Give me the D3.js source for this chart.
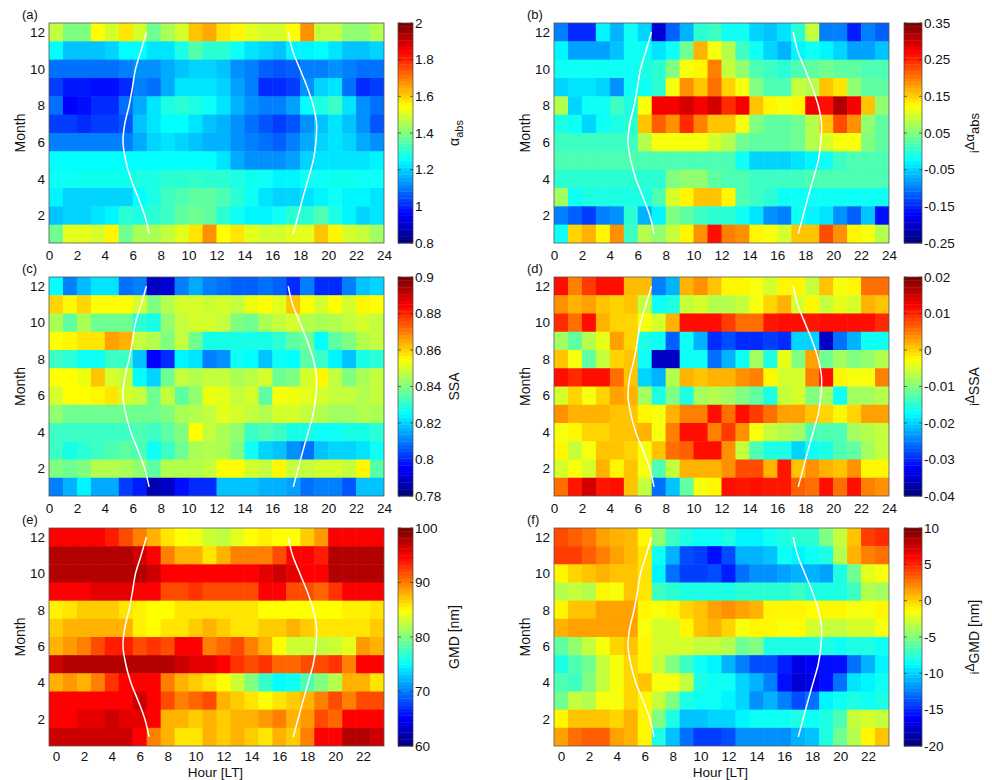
<!DOCTYPE html>
<html lang="en">
<head>
<meta charset="UTF-8">
<title>Diurnal / seasonal maps</title>
<script src="https://cdn.jsdelivr.net/npm/d3@7"></script>
<style>
    body { margin: 0; background: #fff; }
    text { font-family: "Liberation Sans", Arial, sans-serif; fill: #111; }
</style>
</head>
<body>
<script>

// rows of every grid are listed top-down: month 12 first, month 1 last
const months = [12, 11, 10, 9, 8, 7, 6, 5, 4, 3, 2, 1];
const hours = d3.range(24);

// sunrise / sunset hour for months 1..12 (white lines)
const sunMonths = [1, 2, 3, 4, 5, 6, 7, 8, 9, 10, 11, 12];
const sunrise = [7.17, 6.86, 6.38, 5.86, 5.5, 5.3, 5.43, 5.74, 5.98, 6.2, 6.6, 6.98];
const sunset = [17.5, 17.85, 18.2, 18.57, 18.93, 19.12, 19.17, 18.93, 18.5, 17.97, 17.45, 17.14];

const hourTicksFull = [0, 2, 4, 6, 8, 10, 12, 14, 16, 18, 20, 22, 24];
const hourTicksShort = [0, 2, 4, 6, 8, 10, 12, 14, 16, 18, 20, 22];
const monthTicks = [2, 4, 6, 8, 10, 12];

// (a) alpha_abs
const alphaAbs = [
    [1.48,1.40,1.40,1.55,1.50,1.58,1.50,1.38,1.45,1.50,1.62,1.65,1.58,1.56,1.52,1.50,1.50,1.55,1.68,1.48,1.48,1.42,1.42,1.46],
    [1.25,1.18,1.18,1.18,1.20,1.25,1.25,1.22,1.22,1.28,1.35,1.30,1.30,1.26,1.22,1.20,1.18,1.24,1.24,1.25,1.22,1.18,1.18,1.20],
    [1.08,1.08,1.08,1.08,1.08,1.10,1.12,1.12,1.15,1.18,1.20,1.20,1.18,1.12,1.10,1.06,1.05,1.06,1.10,1.10,1.12,1.10,1.08,1.08],
    [1.02,0.98,0.98,0.96,0.96,1.00,1.10,1.08,1.15,1.22,1.22,1.22,1.20,1.14,1.10,1.00,1.00,1.02,1.12,1.20,1.22,1.08,1.00,1.02],
    [1.08,0.95,0.96,1.00,1.00,1.08,1.15,1.22,1.28,1.30,1.28,1.26,1.22,1.16,1.12,1.10,1.10,1.14,1.25,1.28,1.32,1.22,1.12,1.08],
    [1.02,1.02,1.00,1.02,1.02,1.05,1.18,1.22,1.25,1.25,1.22,1.18,1.16,1.12,1.08,1.05,1.02,1.05,1.12,1.18,1.22,1.18,1.12,1.05],
    [1.10,1.10,1.10,1.10,1.10,1.10,1.15,1.20,1.22,1.20,1.18,1.16,1.16,1.12,1.10,1.08,1.06,1.10,1.15,1.20,1.22,1.20,1.15,1.12],
    [1.25,1.25,1.25,1.25,1.25,1.25,1.25,1.25,1.25,1.25,1.25,1.25,1.22,1.15,1.12,1.12,1.12,1.14,1.20,1.22,1.22,1.22,1.22,1.24],
    [1.26,1.26,1.27,1.27,1.27,1.27,1.28,1.28,1.30,1.30,1.31,1.30,1.30,1.28,1.27,1.26,1.24,1.24,1.26,1.26,1.27,1.27,1.26,1.26],
    [1.24,1.20,1.20,1.20,1.20,1.20,1.25,1.28,1.32,1.34,1.36,1.36,1.34,1.30,1.26,1.22,1.20,1.20,1.22,1.24,1.26,1.24,1.24,1.22],
    [1.18,1.20,1.20,1.22,1.24,1.30,1.28,1.30,1.32,1.36,1.38,1.36,1.30,1.26,1.24,1.24,1.26,1.30,1.30,1.34,1.28,1.24,1.20,1.22],
    [1.38,1.52,1.52,1.50,1.56,1.38,1.45,1.45,1.48,1.52,1.58,1.68,1.55,1.58,1.52,1.50,1.50,1.52,1.52,1.62,1.56,1.50,1.48,1.44]
];

// (b) delta alpha_abs
const dAlphaAbs = [
    [-0.10,-0.15,-0.15,-0.03,-0.07,-0.02,-0.05,-0.20,-0.12,-0.07,0.00,0.01,-0.02,-0.02,-0.05,-0.06,-0.04,0.00,0.09,-0.10,-0.10,-0.16,-0.10,-0.12],
    [-0.03,-0.08,-0.08,-0.08,-0.06,-0.02,-0.02,-0.04,-0.02,0.04,0.17,0.12,0.08,0.01,-0.02,-0.05,-0.07,-0.03,-0.02,-0.03,-0.05,-0.08,-0.08,-0.06],
    [-0.02,-0.02,-0.02,-0.02,-0.02,-0.02,-0.01,0.00,0.05,0.12,0.13,0.20,0.09,0.06,0.02,0.01,0.00,0.02,0.03,0.04,0.03,0.03,0.02,0.02],
    [-0.05,-0.04,-0.04,-0.05,-0.09,-0.02,-0.02,0.00,0.12,0.19,0.16,0.21,0.15,0.12,0.05,0.02,0.02,0.09,0.08,0.16,0.14,0.06,0.03,0.03],
    [0.08,-0.05,-0.02,-0.02,0.01,-0.01,0.12,0.28,0.28,0.30,0.28,0.30,0.25,0.28,0.16,0.13,0.12,0.13,0.28,0.27,0.32,0.28,0.16,0.06],
    [-0.01,-0.02,-0.05,-0.02,-0.01,0.00,0.16,0.22,0.19,0.25,0.20,0.16,0.16,0.12,0.05,0.03,0.03,0.04,0.08,0.16,0.23,0.19,0.06,0.03],
    [0.01,0.01,0.01,0.01,0.01,0.01,0.08,0.12,0.12,0.12,0.12,0.10,0.08,0.04,0.03,0.03,0.03,0.04,0.08,0.10,0.12,0.12,0.05,0.03],
    [0.02,0.02,0.02,0.02,0.02,0.02,0.02,0.02,0.02,0.02,0.02,0.02,0.02,-0.02,-0.05,-0.05,-0.05,-0.04,-0.03,-0.02,0.01,0.02,0.02,0.02],
    [0.00,0.00,0.00,0.00,0.00,0.00,0.00,0.00,0.05,0.06,0.06,0.03,0.02,0.02,0.01,0.01,0.01,0.01,0.02,0.02,0.02,0.02,0.02,0.02],
    [0.07,-0.02,-0.01,-0.01,-0.01,-0.01,-0.01,0.02,0.10,0.13,0.16,0.16,0.13,0.02,0.01,0.00,-0.02,-0.02,-0.02,-0.02,-0.02,-0.02,-0.02,-0.02],
    [-0.10,-0.12,-0.14,-0.10,-0.09,0.00,-0.07,-0.03,0.05,0.03,0.01,0.00,0.00,-0.02,-0.04,-0.09,-0.10,-0.02,-0.03,-0.04,-0.09,-0.12,-0.06,-0.17],
    [-0.02,0.15,0.17,0.13,0.19,0.01,0.08,0.06,0.09,0.13,0.19,0.27,0.20,0.19,0.13,0.12,0.10,0.16,0.16,0.23,0.19,0.13,0.12,0.08]
];

// (c) SSA
const ssa = [
    [0.825,0.810,0.817,0.822,0.822,0.808,0.810,0.788,0.790,0.810,0.815,0.810,0.808,0.806,0.806,0.808,0.806,0.800,0.810,0.800,0.800,0.810,0.818,0.820],
    [0.860,0.856,0.860,0.855,0.855,0.855,0.850,0.840,0.846,0.850,0.850,0.849,0.850,0.848,0.853,0.855,0.852,0.862,0.855,0.850,0.855,0.850,0.856,0.855],
    [0.845,0.836,0.845,0.838,0.838,0.838,0.830,0.828,0.842,0.848,0.850,0.850,0.848,0.840,0.838,0.845,0.848,0.850,0.846,0.845,0.846,0.848,0.850,0.848],
    [0.855,0.856,0.858,0.858,0.866,0.864,0.848,0.846,0.840,0.848,0.838,0.828,0.828,0.828,0.828,0.828,0.830,0.836,0.838,0.825,0.836,0.840,0.846,0.848],
    [0.832,0.830,0.826,0.826,0.832,0.832,0.818,0.795,0.800,0.824,0.822,0.810,0.812,0.826,0.825,0.818,0.826,0.825,0.836,0.832,0.824,0.818,0.828,0.830],
    [0.855,0.855,0.853,0.862,0.850,0.848,0.825,0.820,0.838,0.848,0.846,0.848,0.848,0.845,0.847,0.850,0.838,0.840,0.850,0.856,0.848,0.840,0.845,0.848],
    [0.850,0.855,0.855,0.856,0.858,0.850,0.848,0.838,0.848,0.836,0.842,0.853,0.852,0.848,0.850,0.836,0.854,0.853,0.852,0.850,0.848,0.848,0.846,0.848],
    [0.842,0.838,0.838,0.838,0.838,0.838,0.838,0.838,0.840,0.845,0.846,0.848,0.852,0.850,0.848,0.846,0.850,0.850,0.848,0.846,0.844,0.844,0.846,0.845],
    [0.832,0.832,0.832,0.832,0.832,0.832,0.834,0.832,0.836,0.840,0.855,0.848,0.845,0.842,0.832,0.834,0.832,0.828,0.828,0.826,0.826,0.828,0.828,0.830],
    [0.832,0.828,0.830,0.832,0.834,0.836,0.834,0.826,0.832,0.838,0.845,0.846,0.845,0.840,0.826,0.820,0.818,0.812,0.808,0.818,0.820,0.820,0.822,0.826],
    [0.840,0.838,0.840,0.846,0.846,0.845,0.842,0.836,0.846,0.846,0.846,0.848,0.855,0.855,0.850,0.848,0.856,0.848,0.848,0.850,0.850,0.848,0.856,0.835],
    [0.810,0.816,0.824,0.815,0.815,0.802,0.798,0.786,0.788,0.796,0.800,0.800,0.818,0.818,0.818,0.816,0.816,0.814,0.808,0.810,0.810,0.805,0.818,0.818]
];

// (d) delta SSA
const dSsa = [
    [0.012,0.005,0.009,0.012,0.012,0.0015,0.0015,-0.025,-0.022,0.002,0.004,0.001,-0.002,-0.002,-0.003,-0.005,-0.002,-0.002,-0.006,0.001,-0.003,-0.002,0.006,0.006],
    [0.004,0.002,0.003,0.001,0.000,0.001,-0.006,-0.017,-0.016,-0.006,-0.005,-0.007,-0.007,-0.006,-0.003,0.000,0.002,-0.005,-0.002,-0.006,-0.004,-0.005,0.002,0.001],
    [0.010,0.006,0.012,0.002,0.000,0.000,-0.003,-0.005,0.002,0.012,0.012,0.012,0.009,0.006,0.006,0.011,0.012,0.012,0.011,0.012,0.012,0.012,0.012,0.010],
    [-0.008,-0.012,-0.007,-0.004,0.003,0.000,-0.016,-0.017,-0.027,-0.017,-0.022,-0.030,-0.028,-0.030,-0.030,-0.029,-0.030,-0.020,-0.020,-0.036,-0.026,-0.022,-0.017,-0.017],
    [0.001,-0.003,-0.012,-0.006,0.000,0.001,-0.017,-0.036,-0.036,-0.017,-0.017,-0.026,-0.022,-0.017,-0.008,-0.016,-0.004,-0.010,0.003,-0.011,-0.008,-0.010,-0.009,-0.007],
    [0.012,0.010,0.012,0.012,0.006,0.001,-0.020,-0.022,-0.007,0.002,0.001,0.002,0.002,0.004,0.005,-0.002,-0.005,-0.005,0.005,0.012,-0.002,-0.003,-0.003,0.005],
    [-0.005,0.000,-0.003,0.000,0.003,0.002,-0.008,-0.016,-0.010,-0.016,-0.008,-0.007,-0.008,-0.010,-0.012,-0.016,-0.006,-0.005,-0.010,-0.008,-0.017,-0.008,-0.008,-0.007],
    [0.004,0.002,0.002,0.002,0.001,0.001,-0.002,-0.003,0.002,0.005,0.005,0.012,0.006,0.012,0.009,0.006,0.003,0.003,0.001,0.000,-0.002,0.000,0.003,0.003],
    [-0.003,-0.002,0.000,0.000,0.001,0.001,0.002,-0.003,0.005,0.012,0.012,0.005,0.009,0.004,-0.003,-0.006,-0.007,-0.008,-0.013,-0.013,-0.013,-0.008,-0.007,-0.006],
    [-0.002,-0.006,-0.003,0.001,0.001,0.000,-0.003,0.001,0.006,0.007,0.012,0.012,0.004,-0.006,-0.013,-0.016,-0.016,-0.020,-0.017,-0.016,-0.013,-0.012,-0.008,-0.006],
    [-0.005,-0.003,-0.005,0.002,-0.002,0.001,-0.003,-0.013,-0.006,0.002,0.002,0.002,0.004,0.008,0.008,0.002,0.011,0.001,0.004,0.002,0.001,0.004,-0.002,-0.002],
    [0.006,0.011,0.015,0.011,0.012,0.001,-0.006,-0.026,-0.021,-0.012,-0.003,-0.002,0.012,0.011,0.012,0.011,0.011,0.007,0.006,0.012,0.006,0.012,0.005,0.004]
];

// (e) GMD [nm]
const gmd = [
    [95,95,95,95,94,92,90,88,86,85,84.5,83,82.5,84,85,85.5,85,85,87,89,95,95,95,95],
    [98,98,98,98,98,98,97,95,90,88,88,86,88,90,90,90,92,95,95,94,98,98,98,98],
    [98,98,98,98,98,98,98,97,95,95,95,95,95,95,95,96,97,96,95,95,98,98,98,98],
    [95,95,95,96,96,96,95,95,92,92,93,92,92,92,92,95,95,92,92,91,93,95,95,95],
    [85.5,86,87,87,87,86,85.5,85,85,86,86,86,86,86,86,85,85,85,85,85,85,85.5,85.5,86],
    [87,88,88,88,88,88,85.5,85,86,86,87,88,87,86,86,87,87,88,87,86,86,86,86,87],
    [88,89,90,92,94,94,92,93,92,95,95,90,91,92,90,88,85,83,83,82.5,83,84,89,88],
    [97,98,98,98,98,98,98,98,98,97,96,96,95,93,92,93,91,91,92,92,93,90,95,95],
    [88,89,88,90,93,95,95,95,90,88,87,86,85,83,80,77,75,75.5,78,80,82,88,88,86],
    [95,95,95,95,95,95,97,95,92,90,91,92,88,87,86,85,86,87,88,90,92,90,92,92],
    [95,95,96,96,97,96,96,95,88,88,87,88,87,88,88,89,90,88,89,92,91,95,95,95],
    [97,97,97,97,97,97,95,90,88,86,86,88,87,88,87,86,88,87,90,95,95,98,98,97]
];

// (f) delta GMD [nm]
const dGmd = [
    [4,3.5,2.8,1.5,1,0.8,-1,-4.5,-7,-8,-8.5,-8.5,-8,-9,-9,-8.5,-8,-7.5,-7.5,-5,-3,0.5,4.5,5],
    [4.5,4.5,3.5,2.5,1.5,0.8,-0.5,-8.5,-11,-14,-14.5,-16,-14,-11,-11,-10.5,-8.5,-9,-8.5,-8,-3.5,1,2.5,3],
    [-1,0,0.5,1,0.5,0.5,-0.5,-9,-13,-14.5,-14.5,-14,-15.5,-13,-12,-12,-11.5,-11,-11,-11.5,-8,-5.5,-2,-1.5],
    [-3.5,-3,-3.5,-1,-1.5,0.5,-0.5,-7,-7.5,-8,-8,-8,-8,-7.5,-7.5,-7.5,-7.5,-7,-8,-8,-8,-7,-3.5,-4],
    [-1,0.5,0.5,1.5,1.5,1.5,-1,-1.5,-1,0,0.5,1.5,2,1.5,1,-1,-1,-1,-1.2,-1,-1,-1.5,-1.5,-1],
    [1,1.5,1.5,1.5,1.5,1.5,-1.5,-2.5,-2.5,-1,0.5,1,0,-1.5,-1,-1,-1.5,-1.2,-2.5,-3,-3,-2.5,-2.5,-1.5],
    [-6,-4.5,-3,-1.5,0,0.5,-1,-2.5,-2.5,-2.5,-3,-3,-3.5,-5.5,-5,-8,-8,-8,-8,-8,-8.5,-8,-8,-8.5],
    [-8,-6.5,-5.5,-3,-1.5,0,-1,-3,-5,-7,-8.5,-9,-11,-12.5,-14,-14,-15.5,-17,-16.5,-16,-16,-13,-11,-9],
    [-6.5,-7,-5,-3,-1.5,0,0.5,-1.5,-1.5,-3,-8,-8.5,-8.5,-10,-11,-12.5,-16,-17.5,-17,-16,-13,-9.5,-9,-8.5],
    [-5.5,-3,-3.5,-1.5,-1.5,0,-1,-3,-5,-8,-8.5,-8.5,-9,-10,-12,-11,-12.5,-14,-13,-9,-8.5,-8,-8.5,-8],
    [-1,0.5,0.5,0.5,0,1,-1,-5,-8,-10.5,-10.5,-10,-10,-9,-8.5,-8.5,-8.5,-8,-8.5,-8,-6.5,-3,-2.5,-3],
    [1.5,3,3.5,3.5,1.5,1,-1,-8,-10.5,-13,-14.5,-14.5,-14,-12,-12,-12,-12,-11,-10.5,-8,-5.5,-3.5,-1,0.5]
];

// colour bar ranges and tick labels
const rangeA = [0.8, 2], ticksA = [0.8, 1, 1.2, 1.4, 1.6, 1.8, 2];
const rangeB = [-0.25, 0.35], ticksB = [-0.25, -0.15, -0.05, 0.05, 0.15, 0.25, 0.35];
const rangeC = [0.78, 0.9], ticksC = [0.78, 0.8, 0.82, 0.84, 0.86, 0.88, 0.9];
const rangeD = [-0.04, 0.02], ticksD = [-0.04, -0.03, -0.02, -0.01, 0, 0.01, 0.02];
const rangeE = [60, 100], ticksE = [60, 70, 80, 90, 100];
const rangeF = [-20, 10], ticksF = [-20, -15, -10, -5, 0, 5, 10];


// matlab "jet"
function jet(t) {
    t = Math.max(0, Math.min(1, t));
    let c = v => Math.round(255 * Math.max(0, Math.min(1, v)));
    return d3.rgb(c(1.5 - Math.abs(4 * t - 3)), c(1.5 - Math.abs(4 * t - 2)), c(1.5 - Math.abs(4 * t - 1)));
}

let panels = [
    {tag: "(a)", grid: alphaAbs, range: rangeA, ticks: ticksA, col: 0, row: 0, title: [["α", 0, 14], ["abs", 4, 11]]},
    {tag: "(b)", grid: dAlphaAbs, range: rangeB, ticks: ticksB, col: 1, row: 0, title: [["i", 0, 12], ["Δα", -5, 13], ["abs", 5, 13]]},
    {tag: "(c)", grid: ssa, range: rangeC, ticks: ticksC, col: 0, row: 1, title: [["SSA", 0, 14]]},
    {tag: "(d)", grid: dSsa, range: rangeD, ticks: ticksD, col: 1, row: 1, title: [["i", 0, 12], ["Δ", -5, 12], ["SSA", 5, 14]]},
    {tag: "(e)", grid: gmd, range: rangeE, ticks: ticksE, col: 0, row: 2, title: [["GMD [nm]", 0, 14]]},
    {tag: "(f)", grid: dGmd, range: rangeF, ticks: ticksF, col: 1, row: 2, title: [["i", 0, 12], ["Δ", -5, 12], ["GMD [nm]", 5, 14]]}
];

let colX = [49, 554];
let rowY = [23, 277, 528];
let rowH = [220, 219, 218];
let plotW = 335;
let cbLeft = [349, 350];
let cbWidth = [15, 18];
let titleX = [459, 979];

let svg = d3.select("body").append("svg")
    .attr("width", 992)
    .attr("height", 780);

let defs = svg.append("defs");
defs.append("filter").attr("id", "soft")
    .append("feGaussianBlur").attr("stdDeviation", 0.6).attr("edgeMode", "duplicate");

panels.forEach(function (p, k) {
    let x0 = colX[p.col], y0 = rowY[p.row], h = rowH[p.row];
    // bottom row has hour labels centred on the cells
    let off = p.row === 2 ? -0.5 : 0;

    let xs = d3.scaleLinear().domain([off, 24 + off]).range([x0, x0 + plotW]);
    let ys = d3.scaleLinear().domain([0.5, 12.5]).range([y0 + h, y0]);
    let cs = d3.scaleLinear().domain(p.range).range([0, 1]);

    defs.append("clipPath").attr("id", "clip" + k)
        .append("rect").attr("x", x0).attr("y", y0).attr("width", plotW).attr("height", h);

    let cells = [];
    p.grid.forEach(function (rowVals, i) {
        rowVals.forEach(function (v, j) {
            cells.push({m: months[i], h: hours[j], v: v});
        });
    });

    let g = svg.append("g").attr("clip-path", "url(#clip" + k + ")");
    g.append("g").attr("filter", "url(#soft)")
        .selectAll("rect")
        .data(cells)
        .enter()
        .append("rect")
        .attr("x", d => xs(d.h + off))
        .attr("y", d => ys(d.m + 0.5))
        .attr("width", d => xs(d.h + 1 + off) - xs(d.h + off) + 0.5)
        .attr("height", d => ys(d.m - 0.5) - ys(d.m + 0.5) + 0.5)
        .attr("fill", d => jet(cs(d.v)));

    // sunrise / sunset
    let line = d3.line()
        .curve(d3.curveCatmullRom)
        .x(d => xs(d[0] + off))
        .y(d => ys(d[1]));
    [sunrise, sunset].forEach(function (arr) {
        g.append("path")
            .attr("d", line(arr.map((v, i) => [v, sunMonths[i]])))
            .attr("fill", "none")
            .attr("stroke", "#fff")
            .attr("stroke-width", 1.5);
    });

    svg.append("rect")
        .attr("x", x0).attr("y", y0).attr("width", plotW).attr("height", h)
        .attr("fill", "none").attr("stroke", "#555").attr("stroke-width", 0.8);

    // axes
    let xAxis = svg.append("g")
        .attr("transform", "translate(0," + (y0 + h) + ")")
        .call(d3.axisBottom(xs).tickValues(p.row === 2 ? hourTicksShort : hourTicksFull)
            .tickSize(0).tickPadding(p.row === 2 ? 5 : 7));
    let yAxis = svg.append("g")
        .attr("transform", "translate(" + x0 + ",0)")
        .call(d3.axisLeft(ys).tickValues(monthTicks).tickSize(0).tickPadding(4));
    [xAxis, yAxis].forEach(function (a) {
        a.select(".domain").remove();
        a.selectAll("text").style("font-size", "13.5px")
            .style("font-family", '"Liberation Sans", Arial, sans-serif').attr("fill", "#111");
    });

    svg.append("text")
        .attr("transform", "translate(" + (x0 - 29) + "," + (y0 + h / 2) + ") rotate(-90)")
        .attr("text-anchor", "middle")
        .attr("dy", "0.35em")
        .style("font-size", "14px")
        .text("Month");

    if (p.row === 2) {
        svg.append("text")
            .attr("x", x0 + plotW / 2 - 1)
            .attr("y", 777)
            .attr("text-anchor", "middle")
            .style("font-size", "13.5px")
            .text("Hour [LT]");
    }

    svg.append("text")
        .attr("x", x0 - 27)
        .attr("y", y0 - 4)
        .style("font-size", "13px")
        .text(p.tag);

    // colour bar
    let cbX = x0 + cbLeft[p.col], cbW = cbWidth[p.col];
    let cy = d3.scaleLinear().domain(p.range).range([y0 + h, y0]);
    let levels = d3.range(64);
    svg.append("g").selectAll("rect")
        .data(levels)
        .enter()
        .append("rect")
        .attr("x", cbX)
        .attr("y", d => y0 + h - (d + 1) * h / 64)
        .attr("width", cbW)
        .attr("height", h / 64 + 0.4)
        .attr("fill", d => jet(d / 63));
    svg.append("rect")
        .attr("x", cbX).attr("y", y0).attr("width", cbW).attr("height", h)
        .attr("fill", "none").attr("stroke", "#444").attr("stroke-width", 0.7);

    let cbTicks = svg.append("g").selectAll("g")
        .data(p.ticks)
        .enter()
        .append("g");
    cbTicks.append("line")
        .attr("x1", cbX).attr("x2", cbX + 3)
        .attr("y1", d => cy(d)).attr("y2", d => cy(d))
        .attr("stroke", "#333").attr("stroke-width", 0.7);
    cbTicks.append("line")
        .attr("x1", cbX + cbW - 3).attr("x2", cbX + cbW)
        .attr("y1", d => cy(d)).attr("y2", d => cy(d))
        .attr("stroke", "#333").attr("stroke-width", 0.7);
    cbTicks.append("text")
        .attr("x", cbX + cbW + 2)
        .attr("y", d => cy(d))
        .attr("dy", "0.35em")
        .style("font-size", "13.5px")
        .text(d => String(d));

    let title = svg.append("text")
        .attr("transform", "translate(" + titleX[p.col] + "," + (y0 + h / 2) + ") rotate(-90)")
        .attr("text-anchor", "middle");
    p.title.forEach(function (part) {
        title.append("tspan")
            .attr("dy", part[1])
            .style("font-size", part[2] + "px")
            .text(part[0]);
    });
});

</script>
</body>
</html>
